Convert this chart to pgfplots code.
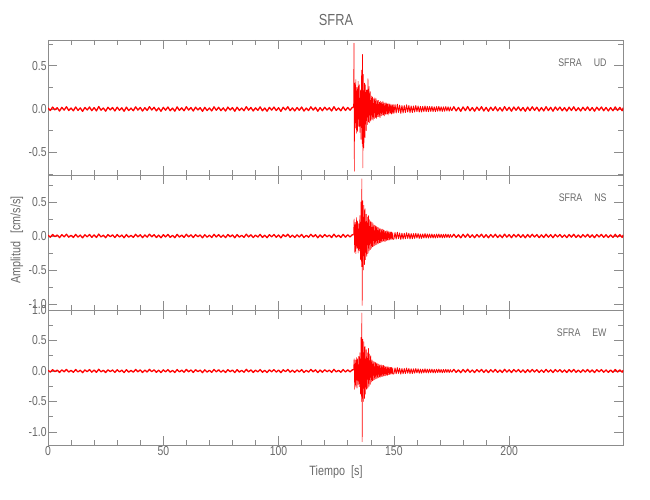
\documentclass[border=0pt]{standalone}
\usepackage{fontspec}
\setmainfont{Liberation Sans}[FakeStretch=0.8]
\usepackage{pgfplots}
\usepackage{pgfplotstable}
\pgfplotsset{compat=1.18}
\definecolor{axgray}{RGB}{140,140,140}
\definecolor{txtgray}{RGB}{105,105,105}

\pgfplotstableread[row sep=\\]{x y\\
0 0.012\\ 1 -0.018\\ 2 0.022\\ 3 -0.010\\ 4 0.015\\ 5 -0.024\\ 6 0.019\\ 7 -0.013\\ 8 0.026\\ 9 -0.017\\
10 0.011\\ 11 -0.021\\ 12 0.024\\ 13 -0.016\\ 14 0.013\\ 15 -0.027\\ 16 0.018\\ 17 -0.012\\ 18 0.023\\ 19 -0.019\\
20 0.016\\ 21 -0.022\\ 22 0.028\\ 23 -0.014\\ 24 0.012\\ 25 -0.025\\ 26 0.020\\ 27 -0.011\\ 28 0.017\\ 29 -0.023\\
30 0.021\\ 31 -0.015\\ 32 0.014\\ 33 -0.026\\ 34 0.022\\ 35 -0.018\\ 36 0.010\\ 37 -0.020\\ 38 0.025\\ 39 -0.013\\
40 0.018\\ 41 -0.024\\ 42 0.015\\ 43 -0.017\\ 44 0.027\\ 45 -0.012\\ 46 0.020\\ 47 -0.022\\ 48 0.013\\ 49 -0.026\\
50 0.019\\ 51 -0.014\\ 52 0.023\\ 53 -0.020\\ 54 0.011\\ 55 -0.025\\ 56 0.024\\ 57 -0.016\\ 58 0.014\\ 59 -0.021\\
60 0.026\\ 61 -0.013\\ 62 0.017\\ 63 -0.023\\ 64 0.021\\ 65 -0.011\\ 66 0.015\\ 67 -0.027\\ 68 0.019\\ 69 -0.018\\
70 0.012\\ 71 -0.022\\ 72 0.025\\ 73 -0.015\\ 74 0.020\\ 75 -0.019\\ 76 0.013\\ 77 -0.024\\ 78 0.022\\ 79 -0.012\\
80 0.016\\ 81 -0.026\\ 82 0.021\\ 83 -0.017\\ 84 0.011\\ 85 -0.020\\ 86 0.027\\ 87 -0.014\\ 88 0.018\\ 89 -0.023\\
90 0.014\\ 91 -0.016\\ 92 0.024\\ 93 -0.021\\ 94 0.012\\ 95 -0.025\\ 96 0.019\\ 97 -0.013\\ 98 0.022\\ 99 -0.018\\
100 0.015\\ 101 -0.027\\ 102 0.020\\ 103 -0.011\\ 104 0.026\\ 105 -0.019\\ 106 0.013\\ 107 -0.022\\ 108 0.017\\ 109 -0.015\\
110 0.023\\ 111 -0.024\\ 112 0.011\\ 113 -0.018\\ 114 0.025\\ 115 -0.013\\ 116 0.019\\ 117 -0.026\\ 118 0.016\\ 119 -0.020\\
120 0.021\\ 121 -0.012\\ 122 0.014\\ 123 -0.023\\ 124 0.027\\ 125 -0.016\\ 126 0.012\\ 127 -0.021\\ 128 0.024\\ 129 -0.017\\
130 0.018\\ 131 -0.014\\ 132 0.020\\ 132.5 0.015\\
}\prenoise

\pgfplotstableread[row sep=\\]{x y\\
175 -0.020\\ 176 0.026\\ 177 -0.022\\ 178 0.018\\ 179 -0.027\\ 180 0.024\\ 181 -0.019\\ 182 0.028\\ 183 -0.021\\ 184 0.017\\
185 -0.025\\ 186 0.022\\ 187 -0.016\\ 188 0.026\\ 189 -0.023\\ 190 0.019\\ 191 -0.026\\ 192 0.021\\ 193 -0.018\\ 194 0.025\\
195 -0.022\\ 196 0.016\\ 197 -0.024\\ 198 0.027\\ 199 -0.017\\ 200 0.020\\ 201 -0.025\\ 202 0.023\\ 203 -0.015\\ 204 0.024\\
205 -0.021\\ 206 0.018\\ 207 -0.026\\ 208 0.022\\ 209 -0.019\\ 210 0.025\\ 211 -0.016\\ 212 0.021\\ 213 -0.024\\ 214 0.017\\
215 -0.022\\ 216 0.026\\ 217 -0.018\\ 218 0.019\\ 219 -0.025\\ 220 0.023\\ 221 -0.014\\ 222 0.022\\ 223 -0.020\\ 224 0.016\\
225 -0.024\\ 226 0.021\\ 227 -0.017\\ 228 0.025\\ 229 -0.021\\ 230 0.015\\ 231 -0.023\\ 232 0.020\\ 233 -0.016\\ 234 0.024\\
235 -0.019\\ 236 0.017\\ 237 -0.025\\ 238 0.021\\ 239 -0.014\\ 240 0.023\\ 241 -0.020\\ 242 0.018\\ 243 -0.022\\ 244 0.016\\
245 -0.021\\ 246 0.024\\ 247 -0.017\\ 248 0.019\\ 249 -0.020\\ 249.5 0.015\\
}\postnoise

\pgfplotstableread[row sep=\\]{x y\\
150.0 -0.050\\ 150.5 0.050\\ 151.0 -0.045\\ 151.5 0.055\\ 152.0 -0.040\\ 152.5 0.045\\ 153.0 -0.050\\ 153.5 0.040\\ 154.0 -0.045\\ 154.5 0.040\\
155.0 -0.040\\ 155.5 0.048\\ 156.0 -0.035\\ 156.5 0.040\\ 157.0 -0.042\\ 157.5 0.035\\ 158.0 -0.040\\ 158.5 0.035\\ 159.0 -0.035\\ 159.5 0.040\\
160.0 -0.030\\ 160.5 0.035\\ 161.0 -0.035\\ 161.5 0.030\\ 162.0 -0.035\\ 162.5 0.030\\ 163.0 -0.030\\ 163.5 0.035\\ 164.0 -0.030\\ 164.5 0.030\\
165.0 -0.030\\ 165.5 0.030\\ 166.0 -0.028\\ 166.5 0.030\\ 167.0 -0.030\\ 167.5 0.025\\ 168.0 -0.030\\ 168.5 0.028\\ 169.0 -0.025\\ 169.5 0.030\\
170.0 -0.025\\ 170.5 0.025\\ 171.0 -0.028\\ 171.5 0.025\\ 172.0 -0.025\\ 172.5 0.028\\ 173.0 -0.022\\ 173.5 0.025\\ 174.0 -0.025\\ 174.5 0.022\\
175.0 -0.020\\
}\coda

\pgfplotstableread[row sep=\\]{x y\\
132.50 0.02\\ 132.70 0.76\\ 132.85 -0.72\\ 133.00 0.30\\ 133.25 -0.22\\ 133.50 0.34\\ 133.75 -0.28\\ 134.00 0.25\\ 134.25 -0.26\\ 134.50 0.32\\
134.75 -0.20\\ 135.00 0.28\\ 135.25 -0.27\\ 135.50 0.22\\ 135.75 -0.35\\ 136.00 0.45\\ 136.25 -0.40\\ 136.40 0.63\\ 136.55 -0.68\\ 136.75 0.40\\
137.00 -0.45\\ 137.25 0.30\\ 137.50 -0.33\\ 137.75 0.28\\ 138.00 -0.25\\ 138.25 0.22\\ 138.50 -0.18\\ 138.75 0.35\\ 139.00 -0.15\\ 139.25 0.26\\
139.50 -0.16\\ 139.75 0.20\\ 140.00 -0.14\\ 140.25 0.15\\ 140.50 -0.12\\ 140.75 0.14\\ 141.00 -0.13\\ 141.25 0.12\\ 141.50 -0.11\\ 141.75 0.13\\
142.00 -0.10\\ 142.25 0.12\\ 142.50 -0.11\\ 142.75 0.10\\ 143.00 -0.09\\ 143.25 0.10\\ 143.50 -0.09\\ 143.75 0.08\\ 144.00 -0.10\\ 144.25 0.09\\
144.50 -0.08\\ 144.75 0.08\\ 145.00 -0.07\\ 145.25 0.09\\ 145.50 -0.07\\ 145.75 0.07\\ 146.00 -0.08\\ 146.25 0.07\\ 146.50 -0.06\\ 146.75 0.07\\
147.00 -0.06\\ 147.25 0.06\\ 147.50 -0.07\\ 147.75 0.06\\ 148.00 -0.05\\ 148.25 0.06\\ 148.50 -0.05\\ 148.75 0.05\\ 149.00 -0.06\\ 149.25 0.05\\
149.50 -0.05\\ 149.75 0.05\\ 150.00 -0.05\\
}\eventUD

\pgfplotstableread[row sep=\\]{x y\\
132.50 0.02\\ 132.75 0.25\\ 133.00 -0.24\\ 133.25 0.20\\ 133.50 -0.26\\ 133.75 0.27\\ 134.00 -0.18\\ 134.25 0.22\\ 134.50 -0.25\\ 134.75 0.18\\
135.00 -0.22\\ 135.25 0.30\\ 135.50 -0.35\\ 135.75 0.50\\ 136.00 -0.45\\ 136.10 0.84\\ 136.25 -1.02\\ 136.50 0.52\\ 136.75 -0.50\\ 137.00 0.45\\
137.25 -0.42\\ 137.50 0.40\\ 137.75 -0.35\\ 138.00 0.32\\ 138.25 -0.30\\ 138.50 0.28\\ 138.75 -0.26\\ 139.00 0.30\\ 139.25 -0.22\\ 139.50 0.24\\
139.75 -0.20\\ 140.00 0.22\\ 140.25 -0.18\\ 140.50 0.20\\ 140.75 -0.16\\ 141.00 0.18\\ 141.25 -0.15\\ 141.50 0.16\\ 141.75 -0.14\\ 142.00 0.15\\
142.25 -0.13\\ 142.50 0.14\\ 142.75 -0.12\\ 143.00 0.13\\ 143.25 -0.11\\ 143.50 0.12\\ 143.75 -0.10\\ 144.00 0.11\\ 144.25 -0.10\\ 144.50 0.10\\
144.75 -0.09\\ 145.00 0.10\\ 145.25 -0.08\\ 145.50 0.09\\ 145.75 -0.08\\ 146.00 0.08\\ 146.25 -0.08\\ 146.50 0.07\\ 146.75 -0.07\\ 147.00 0.08\\
147.25 -0.06\\ 147.50 0.07\\ 147.75 -0.06\\ 148.00 0.06\\ 148.25 -0.06\\ 148.50 0.06\\ 148.75 -0.05\\ 149.00 0.06\\ 149.25 -0.05\\ 149.50 0.05\\
149.75 -0.05\\ 150.00 -0.05\\
}\eventNS

\pgfplotstableread[row sep=\\]{x y\\
132.50 0.02\\ 132.75 0.20\\ 133.00 -0.30\\ 133.25 0.18\\ 133.50 -0.25\\ 133.75 0.22\\ 134.00 -0.28\\ 134.25 0.20\\ 134.50 -0.22\\ 134.75 0.24\\
135.00 -0.26\\ 135.25 0.30\\ 135.50 -0.38\\ 135.75 0.55\\ 136.00 -0.50\\ 136.10 0.95\\ 136.25 -1.16\\ 136.50 0.52\\ 136.75 -0.50\\ 137.00 0.48\\
137.25 -0.45\\ 137.50 0.40\\ 137.75 -0.38\\ 138.00 0.35\\ 138.25 -0.30\\ 138.50 0.30\\ 138.75 -0.28\\ 139.00 0.37\\ 139.25 -0.25\\ 139.50 0.28\\
139.75 -0.22\\ 140.00 0.25\\ 140.25 -0.18\\ 140.50 0.18\\ 140.75 -0.16\\ 141.00 0.16\\ 141.25 -0.15\\ 141.50 0.15\\ 141.75 -0.14\\ 142.00 0.14\\
142.25 -0.13\\ 142.50 0.13\\ 142.75 -0.12\\ 143.00 0.12\\ 143.25 -0.11\\ 143.50 0.11\\ 143.75 -0.10\\ 144.00 0.10\\ 144.25 -0.10\\ 144.50 0.10\\
144.75 -0.09\\ 145.00 0.09\\ 145.25 -0.09\\ 145.50 0.09\\ 145.75 -0.08\\ 146.00 0.08\\ 146.25 -0.08\\ 146.50 0.07\\ 146.75 -0.07\\ 147.00 0.07\\
147.25 -0.07\\ 147.50 0.07\\ 147.75 -0.06\\ 148.00 0.06\\ 148.25 -0.06\\ 148.50 0.06\\ 148.75 -0.05\\ 149.00 0.06\\ 149.25 -0.05\\ 149.50 0.05\\
149.75 -0.05\\ 150.00 -0.05\\
}\eventEW

\pgfplotsset{
  panel/.style={
    scale only axis, width=575.3pt, height=135pt, anchor=south west,
    xmin=0, xmax=249.5,
    axis line style={axgray, line width=0.6pt},
    every tick/.style={axgray, line width=0.6pt},
    tick align=inside,
    major tick length=9pt, minor tick length=5pt,
    xtick={0,50,100,150,200}, minor x tick num=4,
    minor ytick={-0.75,-0.25,0.25,0.75},
    tick pos=both, xticklabel pos=lower, yticklabel pos=left,
    /pgf/number format/assume math mode=true,
    ticklabel style={font=\fontsize{13}{13}\selectfont, text=txtgray, inner sep=1.2pt},
    yticklabel style={/pgf/number format/.cd, fixed, fixed zerofill, precision=1},
    xticklabel style={/pgf/number format/.cd, fixed, precision=0},
    clip=true,
  },
}
\tikzset{
  trace/.style={red, line width=0.6pt, line join=round},
  noise/.style={red, line width=1.3pt, line join=round},
  codatrace/.style={red, line width=0.9pt, line join=round},
  lab/.style={anchor=east, text=txtgray, font=\fontsize{11}{11}\selectfont},
}

\begin{document}
\begin{tikzpicture}
\path[use as bounding box] (0,0) rectangle (650pt,500pt);

\begin{axis}[panel, at={(48pt,325pt)}, ymin=-0.763, ymax=0.798, ytick={-0.5,0,0.5}, xticklabels={}]
\addplot[noise, no marks] table {\prenoise};
\addplot[trace, no marks] table {\eventUD};
\addplot[codatrace, no marks] table {\coda};
\addplot[noise, no marks] table {\postnoise};
\node[lab] at (rel axis cs:0.977,0.83) {SFRA\hspace{12pt}UD};
\end{axis}

\begin{axis}[panel, at={(48pt,190pt)}, ymin=-1.088, ymax=0.897, ytick={-1,-0.5,0,0.5}, xticklabels={}]
\addplot[noise, no marks] table {\prenoise};
\addplot[trace, no marks] table {\eventNS};
\addplot[codatrace, no marks] table {\coda};
\addplot[noise, no marks] table {\postnoise};
\node[lab] at (rel axis cs:0.977,0.83) {SFRA\hspace{12pt}NS};
\end{axis}

\begin{axis}[panel, at={(48pt,55pt)}, ymin=-1.213, ymax=1.0, ytick={-1,-0.5,0,0.5,1}]
\addplot[noise, no marks] table {\prenoise};
\addplot[trace, no marks] table {\eventEW};
\addplot[codatrace, no marks] table {\coda};
\addplot[noise, no marks] table {\postnoise};
\node[lab] at (rel axis cs:0.977,0.83) {SFRA\hspace{12pt}EW};
\end{axis}

\node[text=txtgray, font=\fontsize{16}{16}\selectfont] at (336pt,480pt) {SFRA};
\node[text=txtgray, font=\fontsize{13.5}{13.5}\selectfont, rotate=90] at (17pt,260pt) {Amplitud\hspace{8pt}[cm/s/s]};
\node[text=txtgray, font=\fontsize{13.5}{13.5}\selectfont] at (336pt,28pt) {Tiempo\hspace{6pt}[s]};
\end{tikzpicture}
\end{document}
